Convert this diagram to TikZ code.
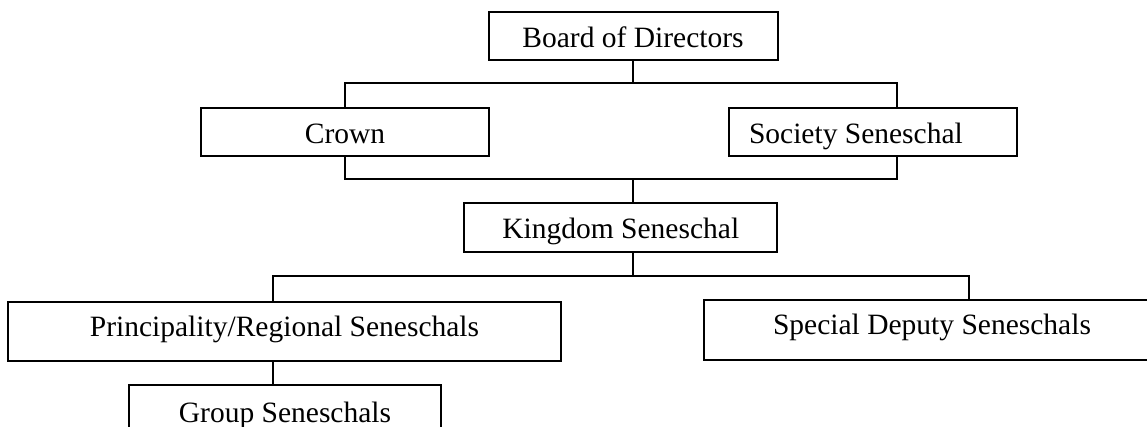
\documentclass[tikz,border=0pt]{standalone}
\usepackage{fontspec}
\setmainfont{Liberation Serif}
\begin{document}
\begin{tikzpicture}[x=1pt,y=-1pt,
    upper/.style={draw,line width=2pt,inner sep=0pt,text height=26pt,text depth=3pt},
    lower/.style={draw,line width=2pt,inner sep=0pt,text height=20pt,text depth=11pt},
    link/.style={line width=1.3pt}]
  \useasboundingbox (0,0) rectangle (1147,427);
  \fontsize{29.5}{35}\selectfont
    \node[upper,minimum width=289pt,minimum height=48pt] (board) at (633,36)
          {Board of Directors};
    \node[upper,minimum width=288pt,minimum height=48pt] (crown) at (345,131.7)
          {Crown};
    \node[upper,minimum width=288pt,minimum height=48pt] (society) at (873,131.7)
          {\makebox[248pt][l]{Society Seneschal}};

    \node[upper,minimum width=313pt,minimum height=48.5pt] (kingdom) at (620.8,227.5)
          {Kingdom Seneschal};

    \node[lower,minimum width=553pt,minimum height=59pt] (principal) at (284.5,331.5)
          {Principality/Regional Seneschals};
    \node[lower,minimum width=456pt,minimum height=60pt] (special) at (932,330)
          {Special Deputy Seneschals};
    \node[lower,minimum width=312pt,minimum height=65pt] (group) at (285,417.5)
          {Group Seneschals};

    \coordinate (topbar) at (633,83);
    \coordinate (midbar) at (633,179);
    \coordinate (lowbar) at (633,276);

    \draw[link] (board.south) -- (topbar);
    \draw[link] (crown.north) |- (topbar) -| ([xshift=24pt]society.north);
    \draw[link] (crown.south) |- (midbar) -| ([xshift=24pt]society.south);
    \draw[link] (midbar) -- (midbar |- kingdom.north);
    \draw[link] (lowbar |- kingdom.south) -- (lowbar);
    \draw[link] ([xshift=-11.5pt]principal.north) |- (lowbar)
          -| ([xshift=37pt]special.north);
    \draw[link] ([xshift=-11.5pt]principal.south) -- ([xshift=-12pt]group.north);
  \end{tikzpicture}
\end{document}
